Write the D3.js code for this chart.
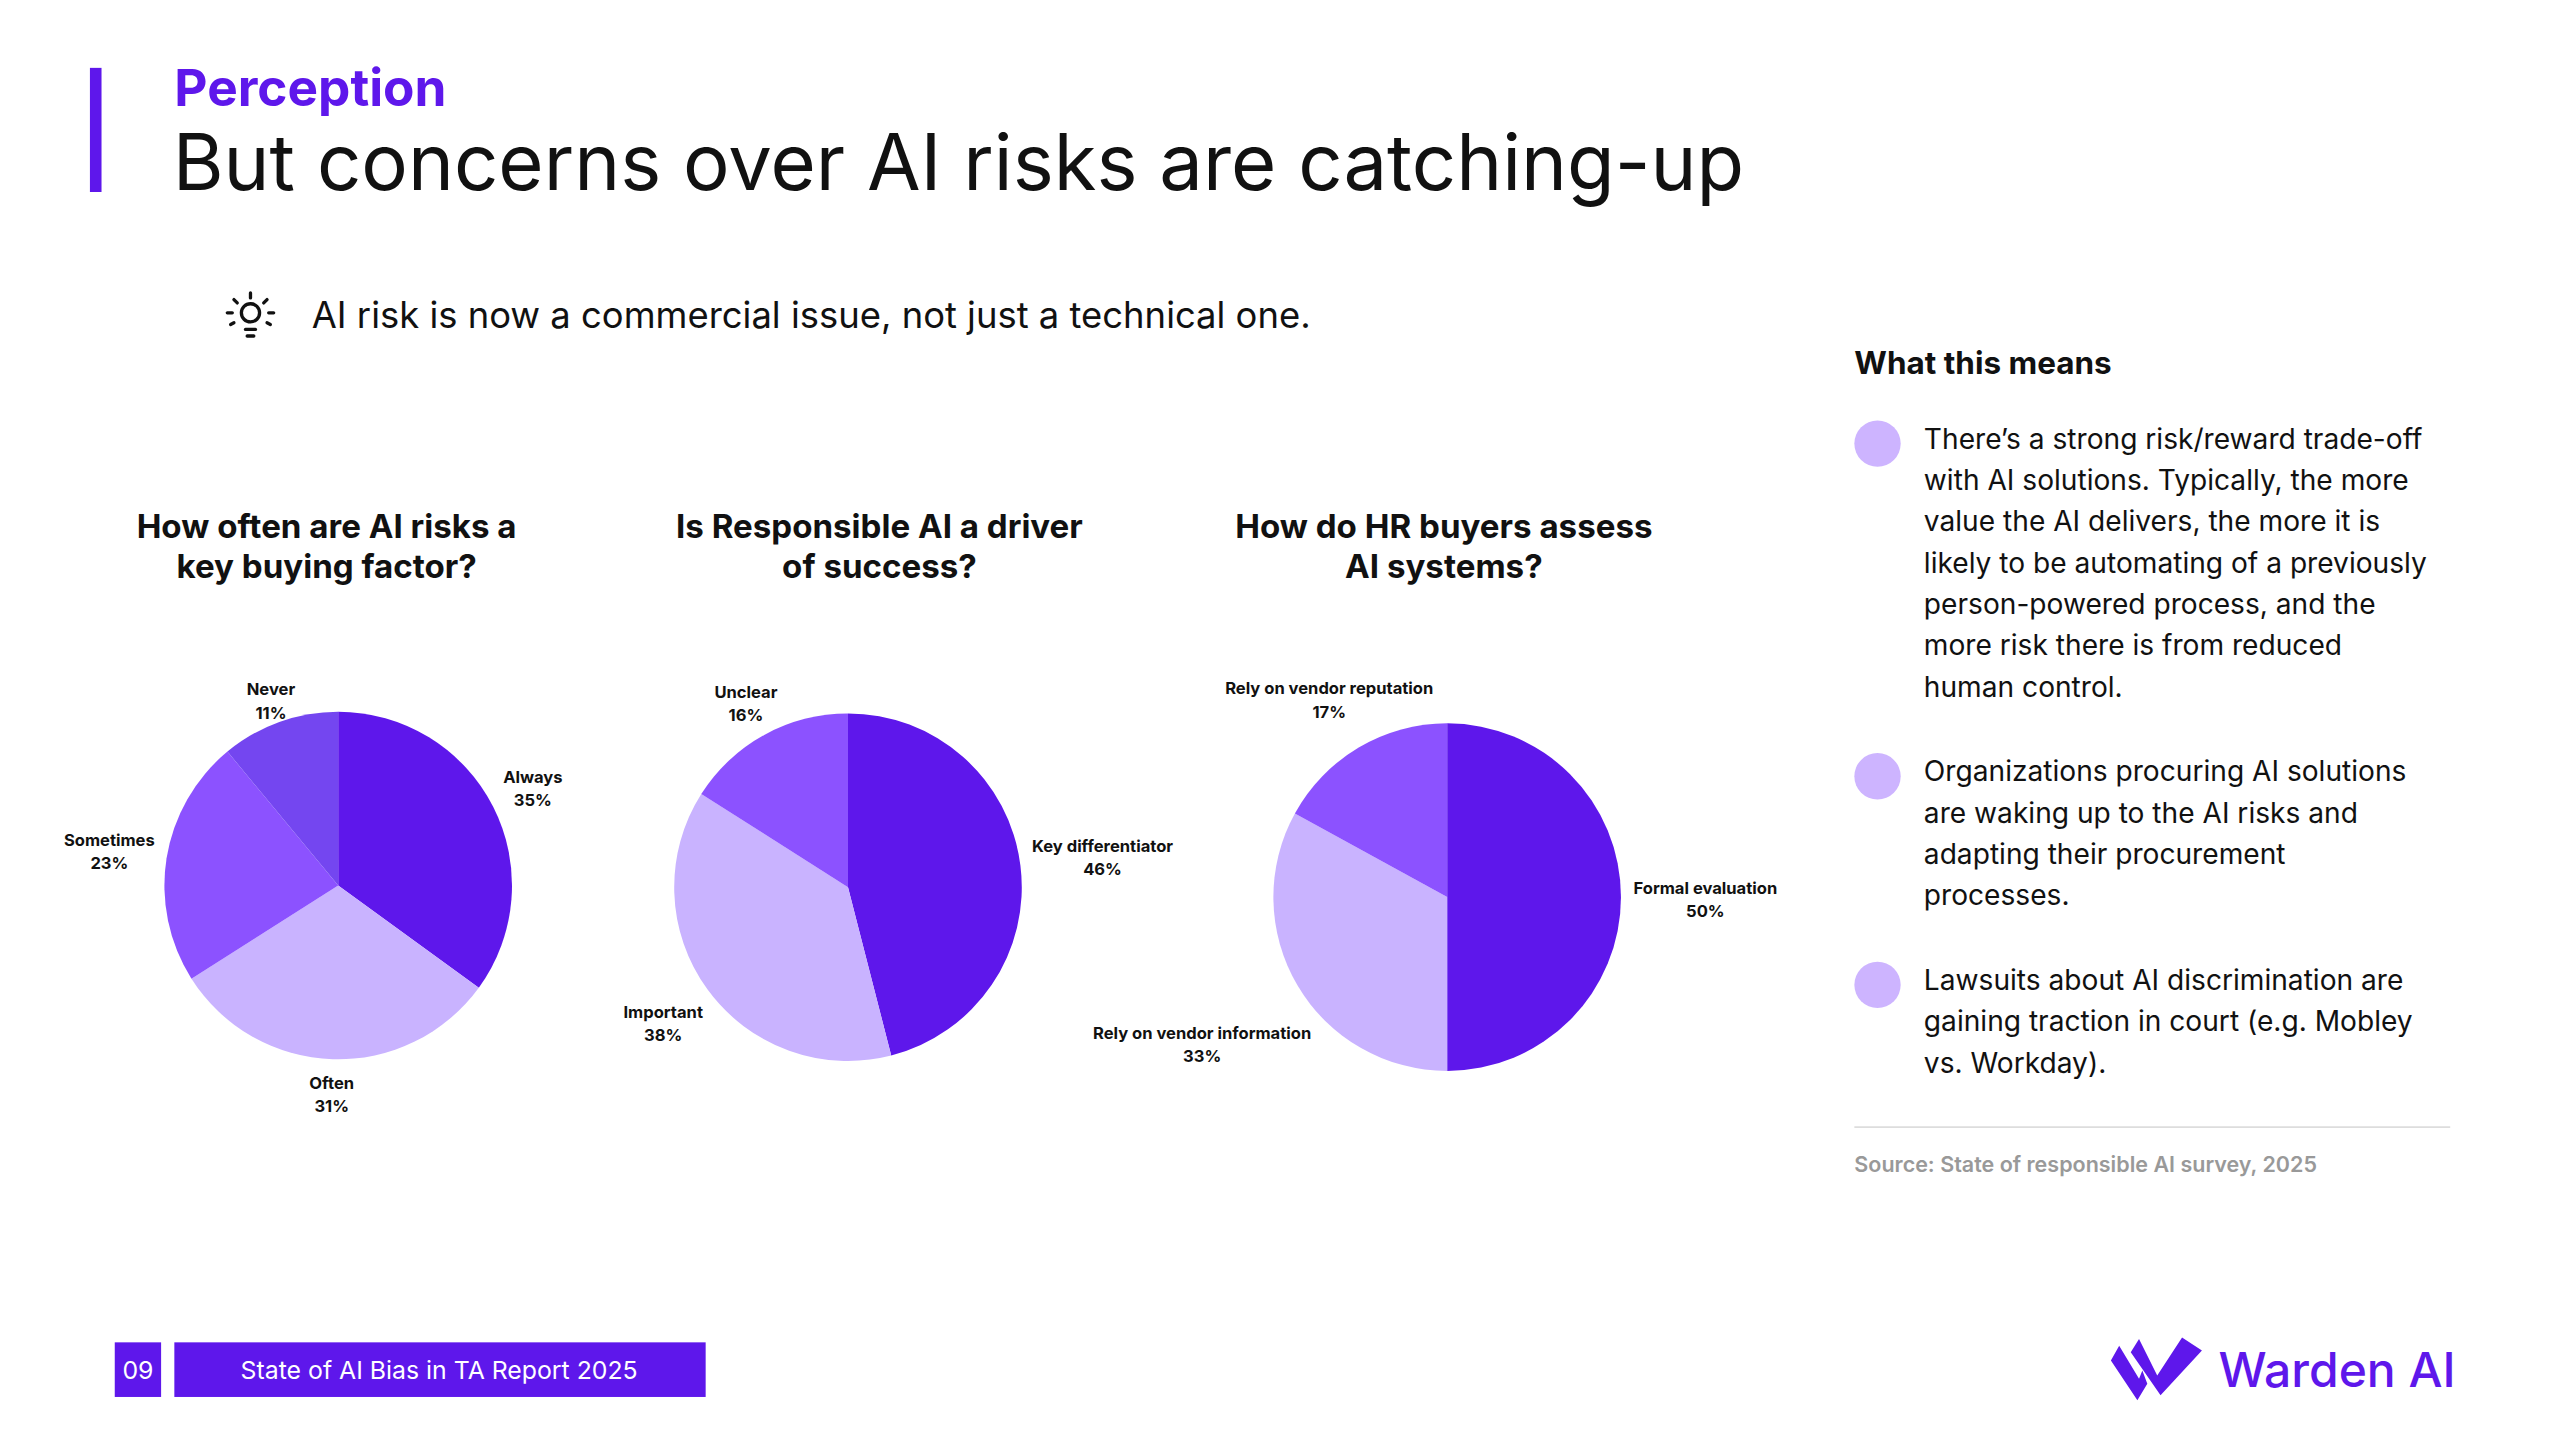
<!DOCTYPE html>
<html>
<head>
<meta charset="utf-8">
<script src="https://cdn.jsdelivr.net/npm/d3@7"></script>
<style>
  body { margin: 0; background: #fff; }
  svg { display: block; font-family: Inter, "Open Sans", sans-serif; }
</style>
</head>
<body>
<svg id="slide" width="2560" height="1440" viewBox="0 0 1546 870"></svg>
<script>
// Data
const chart1Labels = ["Always", "Often", "Sometimes", "Never"];
const chart1Values = [35, 31, 23, 11];
const chart2Labels = ["Key differentiator", "Important", "Unclear"];
const chart2Values = [46, 38, 16];
const chart3Labels = ["Formal evaluation", "Rely on vendor information", "Rely on vendor reputation"];
const chart3Values = [50, 33, 17];

const bullets = [
  ["There’s a strong risk/reward trade-off", "with AI solutions. Typically, the more", "value the AI delivers, the more it is",
   "likely to be automating of a previously", "person-powered process, and the", "more risk there is from reduced", "human control."],
  ["Organizations procuring AI solutions", "are waking up to the AI risks and", "adapting their procurement", "processes."],
  ["Lawsuits about AI discrimination are", "gaining traction in court (e.g. Mobley", "vs. Workday)."]
];

const purple = "#5e17eb";
const svg = d3.select("#slide");

// Header
svg.append("rect").attr("x", 54).attr("y", 41).attr("width", 7).attr("height", 75).attr("fill", purple);
svg.append("text").attr("x", 105).attr("y", 64).attr("fill", purple)
  .style("font-size", "31px").style("font-weight", 700).text("Perception");
svg.append("text").attr("x", 104).attr("y", 115).attr("fill", "#111")
  .style("font-size", "47px").style("font-weight", 400).text("But concerns over AI risks are catching-up");

// Lightbulb icon
const bulb = svg.append("g").attr("transform", "translate(151,190)")
  .attr("stroke", "#111").attr("stroke-width", 2).attr("fill", "none").attr("stroke-linecap", "round");
bulb.append("circle").attr("r", 5.5).attr("cy", -1);
bulb.append("line").attr("x1", -3).attr("x2", 3).attr("y1", 9).attr("y2", 9);
bulb.append("line").attr("x1", -2).attr("x2", 2).attr("y1", 13).attr("y2", 13);
[[0, -13, 0, -10], [-10, -9, -8, -7], [10, -9, 8, -7], [-14, -1, -11, -1], [14, -1, 11, -1], [-12, 6, -10, 5], [12, 6, 10, 5]]
  .forEach(l => bulb.append("line").attr("x1", l[0]).attr("y1", l[1]).attr("x2", l[2]).attr("y2", l[3]));
svg.append("text").attr("x", 188).attr("y", 198).attr("fill", "#111")
  .style("font-size", "22px").text("AI risk is now a commercial issue, not just a technical one.");

// Pies
const charts = [
  { title: ["How often are AI risks a", "key buying factor?"], tx: 197, cx: 204, cy: 535,
    labels: chart1Labels, values: chart1Values,
    colors: [purple, "#c9b3ff", "#8c52ff", "#7446f0"], labelR: [132, 125, 140, 120] },
  { title: ["Is Responsible AI a driver", "of success?"], tx: 531, cx: 512, cy: 536,
    labels: chart2Labels, values: chart2Values,
    colors: [purple, "#c9b3ff", "#8c52ff"], labelR: [155, 138, 128] },
  { title: ["How do HR buyers assess", "AI systems?"], tx: 872, cx: 874, cy: 542,
    labels: chart3Labels, values: chart3Values,
    colors: [purple, "#c9b3ff", "#8c52ff"], labelR: [156, 172, 140] }
];

const pie = d3.pie().sort(null).value(d => d);
const arc = d3.arc().innerRadius(0).outerRadius(105);

charts.forEach(c => {
  const t = svg.append("text").attr("x", c.tx).attr("y", 325).attr("text-anchor", "middle")
    .attr("fill", "#111").style("font-size", "20px").style("font-weight", 700);
  c.title.forEach((line, i) => t.append("tspan").attr("x", c.tx).attr("dy", i ? 24 : 0).text(line));

  const g = svg.append("g").attr("transform", `translate(${c.cx},${c.cy})`);
  const arcs = pie(c.values);
  g.selectAll("path").data(arcs).join("path")
    .attr("d", arc).attr("fill", (d, i) => c.colors[i]);

  arcs.forEach((d, i) => {
    const a = (d.startAngle + d.endAngle) / 2;
    const x = Math.sin(a) * c.labelR[i], y = -Math.cos(a) * c.labelR[i];
    const lt = g.append("text").attr("text-anchor", "middle").attr("fill", "#111")
      .style("font-size", "10px").style("font-weight", 700);
    lt.append("tspan").attr("x", x).attr("y", y - 2).text(c.labels[i]);
    lt.append("tspan").attr("x", x).attr("y", y + 12).text(c.values[i] + "%");
  });
});

// Right panel
svg.append("text").attr("x", 1120).attr("y", 226).attr("fill", "#111")
  .style("font-size", "19px").style("font-weight", 700).text("What this means");
let by = 271;
bullets.forEach(lines => {
  svg.append("circle").attr("cx", 1134).attr("cy", by - 3).attr("r", 14).attr("fill", "#cdb4ff");
  const bt = svg.append("text").attr("fill", "#111").style("font-size", "17px");
  lines.forEach((l, i) => bt.append("tspan").attr("x", 1162).attr("y", by + i * 25).text(l));
  by += lines.length * 25 + 26;
});
svg.append("line").attr("x1", 1120).attr("x2", 1480).attr("y1", 681).attr("y2", 681)
  .attr("stroke", "#ddd").attr("stroke-width", 1);
svg.append("text").attr("x", 1120).attr("y", 708).attr("fill", "#999")
  .style("font-size", "13px").style("font-weight", 600).text("Source: State of responsible AI survey, 2025");

// Footer
svg.append("rect").attr("x", 69).attr("y", 811).attr("width", 28).attr("height", 33).attr("fill", purple);
svg.append("text").attr("x", 83).attr("y", 833).attr("text-anchor", "middle").attr("fill", "#fff")
  .style("font-size", "15px").text("09");
svg.append("rect").attr("x", 105).attr("y", 811).attr("width", 321).attr("height", 33).attr("fill", purple);
svg.append("text").attr("x", 265).attr("y", 833).attr("text-anchor", "middle").attr("fill", "#fff")
  .style("font-size", "15px").text("State of AI Bias in TA Report 2025");

// Logo
const logo = svg.append("g").attr("fill", purple);
logo.append("path").attr("d", "M1275,822 L1280,813 L1292,833 L1294,828 L1297,836 L1291,846 Z");
logo.append("path").attr("d", "M1287,817 L1292,809 L1303,831 L1318,808 L1330,816 L1305,843 Z");
svg.append("text").attr("x", 1340).attr("y", 838).attr("fill", purple)
  .style("font-size", "29px").style("font-weight", 500).text("Warden AI");
</script>
</body>
</html>
